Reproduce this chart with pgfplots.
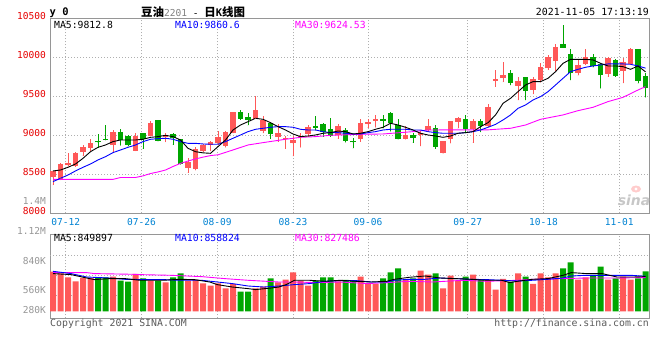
\documentclass[border=0pt]{standalone}
\usepackage{pgfplots}
\pgfplotsset{compat=1.18}
\usepackage{pgfplotstable}
\usepackage{fontspec}
\setmainfont{DejaVu Sans Mono}
\newfontfamily\mono{DejaVu Sans Mono}
\newfontfamily\cjk{Noto Sans CJK SC}
\newfontfamily\sans{DejaVu Sans}
\newcommand\fs[1]{\fontsize{#1}{#1}\selectfont}
\definecolor{kred}{RGB}{255,88,88}
\definecolor{kgreen}{RGB}{0,166,0}
\definecolor{mablue}{RGB}{0,0,255}
\definecolor{mamag}{RGB}{255,0,255}
\definecolor{tickred}{RGB}{230,0,0}
\definecolor{dateblue}{RGB}{0,130,210}
\definecolor{labgray}{RGB}{150,150,150}
\definecolor{bordergray}{RGB}{150,150,150}
\definecolor{gridgray}{RGB}{175,175,175}
\definecolor{copygray}{RGB}{90,90,90}

% candles: i open close high low
\pgfplotstableread{
i o c h l
0 8460 8540 8545 8365
1 8445 8632 8650 8430
2 8618 8648 8772 8605
3 8610 8777 8786 8600
4 8790 8850 8876 8738
5 8840 8905 8955 8800
8 8880 9042 9066 8788
11 8805 8990 9025 8800
13 8995 9161 9185 8990
15 8980 9008 9035 8915
18 8582 8652 8705 8521
19 8570 8820 8850 8555
20 8803 8876 8890 8790
21 8875 8915 8930 8803
22 8897 8979 9060 8876
23 8868 9043 9055 8845
24 9034 9299 9300 9030
27 9214 9325 9504 9214
28 9060 9197 9250 9030
30 8983 9030 9150 8920
31 8949 8962 8985 8829
32 8897 8940 8985 8735
33 8972 8985 9030 8846
34 9017 9111 9128 8983
38 9004 9120 9150 8957
41 8953 9158 9209 8919
42 9145 9175 9213 9100
43 9188 9209 9256 9103
47 8953 9000 9120 8950
49 9000 9030 9060 8863
50 9068 9120 9214 9047
52 8773 8927 8930 8770
53 8953 9184 9184 8900
54 9175 9227 9240 9090
56 9081 9184 9209 8906
58 9120 9359 9397 9103
59 9697 9718 9838 9624
60 9739 9773 9940 9684
62 9637 9697 9752 9453
64 9581 9718 9744 9530
65 9709 9876 9923 9680
66 9859 10004 10034 9838
67 9957 10128 10171 9829
70 9803 9897 9983 9769
71 9919 10000 10107 9906
74 9786 9991 10000 9752
76 9829 9940 9987 9671
77 9919 10107 10120 9910
}\upT
\pgfplotstableread{
i o c h l
6 8928 8908 9020 8843
7 8955 8945 9135 8940
9 9042 8935 9085 8872
10 8985 8878 9010 8860
12 9033 8952 9035 8830
14 9196 8928 9200 8925
16 9018 8960 9035 8880
17 8949 8630 8952 8628
25 9299 9214 9325 9200
26 9235 9197 9280 9130
29 9162 9017 9175 8957
35 9120 9098 9248 9068
36 9150 9047 9162 8983
37 9085 8991 9222 8983
39 9068 8927 9090 8910
40 8927 8910 8962 8835
44 9209 9188 9256 9090
45 9286 9162 9300 9050
46 9128 8953 9205 8950
48 9000 8970 9026 8906
51 9098 8855 9132 8829
55 9209 9081 9256 9030
57 9184 9124 9213 9043
61 9803 9675 9837 9645
63 9744 9573 9752 9453
68 10171 10124 10415 10124
69 10043 9803 10111 9709
72 10000 9889 10043 9872
73 9915 9769 9923 9603
75 9966 9761 9974 9752
78 10107 9697 10107 9667
79 9761 9603 9795 9487
}\dnT

\pgfplotstableread{
i ma5 ma10
0 8543 8406
1 8555 8449
2 8590 8491
3 8632 8543
4 8705 8590
5 8790 8632
6 8846 8684
7 8876 8726
8 8919 8778
9 8940 8812
10 8940 8846
11 8940 8876
12 8949 8919
13 8974 8949
14 8983 8957
15 9000 8962
16 8983 8949
17 8940 8919
18 8833 8897
19 8790 8897
20 8775 8889
21 8769 8885
22 8855 8885
23 8940 8919
24 9068 8962
25 9132 9004
26 9175 9047
27 9218 9077
28 9205 9090
29 9162 9103
30 9111 9111
31 9068 9111
32 9017 9103
33 8983 9077
34 8991 9068
35 9004 9068
36 9026 9047
37 9034 9034
38 9055 9034
39 9047 9026
40 9017 9017
41 9026 9017
42 9047 9034
43 9077 9047
44 9103 9068
45 9154 9077
46 9132 9077
47 9103 9077
48 9068 9068
49 9026 9068
50 9004 9047
51 8991 9034
52 8974 9026
53 8991 9026
54 9026 9026
55 9034 9034
56 9047 9047
57 9111 9068
58 9162 9103
59 9260 9140
60 9410 9197
61 9474 9261
62 9560 9346
63 9645 9389
64 9688 9453
65 9688 9496
66 9731 9560
67 9816 9645
68 9923 9731
69 9974 9816
70 9974 9846
71 9974 9872
72 9966 9889
73 9923 9902
74 9889 9915
75 9889 9915
76 9880 9915
77 9846 9910
78 9889 9889
79 9813 9861
}\maT

\pgfplotstableread{
i v
0 8435
8 8435
9 8459
11 8459
12 8480
13 8510
14 8530
15 8555
16 8600
17 8640
18 8670
19 8697
20 8720
21 8740
22 8750
24 8812
26 8876
28 8906
31 8949
33 8974
35 8983
37 9000
41 9013
44 9017
48 9047
50 9068
55 9070
58 9070
61 9090
63 9132
65 9205
68 9261
70 9316
72 9359
74 9432
76 9487
78 9581
79 9624
}\maThirty

% volume (thousands)
\pgfplotstableread{
i v
0 973
1 931
2 833
3 735
4 818
5 818
8 850
11 916
13 752
15 711
18 752
19 777
20 686
21 630
22 686
23 564
24 671
27 564
28 605
30 711
31 777
32 956
33 752
34 630
38 735
41 850
42 671
43 671
47 769
49 997
50 899
52 564
53 875
54 752
56 899
58 777
59 532
60 794
62 931
64 671
65 931
66 833
67 931
70 777
71 833
74 777
76 850
77 777
}\vupT
\pgfplotstableread{
i v
6 833
7 833
9 752
10 728
12 809
14 752
16 833
17 931
25 483
26 483
29 809
35 752
36 833
37 833
39 769
40 752
44 809
45 956
46 1054
48 809
51 931
55 850
57 777
61 728
63 850
68 1054
69 1201
72 892
73 1095
75 809
78 809
79 980
}\vdnT

\pgfplotstableread{
i v
0 924
2.4 899
4.5 816
5.5 777
7.5 801
9.6 801
11.6 760
14.7 760
16.8 784
18.8 777
20.9 718
21.9 654
23.9 595
26 556
27 532
29.1 571
30.1 595
31.1 654
32.2 760
34.2 760
36.3 735
38.3 760
40.4 735
42.4 718
44.5 735
45.5 784
47.5 833
49.6 865
51.6 816
53.7 801
55.7 784
57.8 760
59.8 760
60.9 703
61.9 735
63.9 784
66 801
68 882
69.1 948
71.1 924
73.2 924
74.2 882
75.2 840
77.3 840
79 850
}\vmaFive
\pgfplotstableread{
i v
0 980
2.4 924
4.5 840
7.5 816
9.6 784
12.7 777
14.7 777
16.8 760
19.8 760
21.9 718
23.9 679
26 620
28.1 595
30.1 620
32.2 654
34.2 679
36.3 735
38.3 752
40.4 752
42.4 718
44.5 718
45.5 760
47.5 784
49.6 784
51.6 816
53.7 801
55.7 784
57.8 777
59.8 760
61.9 742
63.9 760
66 784
68 816
69.1 865
71.1 882
77 882
79 859
}\vmaTen
\pgfplotstableread{
i v
0 948
4.5 948
5.5 924
10.6 907
11.6 899
15.7 882
19.8 850
22.9 801
26 760
30.1 718
32.2 718
35.2 703
38.3 718
41.9 679
44.5 703
47.5 735
50.6 718
54.7 760
57.8 735
61.9 760
63.9 784
68 801
71.1 816
75.2 816
79 827
}\vmaThirty

\pgfplotsset{
  kpanel/.style={
    scale only axis, width=599.3bp, anchor=north west,
    xmin=-0.4, xmax=79.5,
    scaled x ticks=false, scaled y ticks=false,
    axis line style={draw=bordergray, line width=0.9bp},
    major tick length=0pt,
    xtick={1.7,11.8,21.9,32.0,42.0,55.3,65.4,75.5},
    grid style={gridgray, dash pattern=on 1bp off 2bp, line width=0.8bp},
  },
  candle/.style={only marks, mark=*, mark size=0.01pt, mark options={draw=none, fill=none},
    error bars/.cd, y dir=plus, y explicit, error mark=none,
    error bar style={line width=#1}},
}

\begin{document}
\begin{tikzpicture}
\path[use as bounding box] (0,0) rectangle (660bp,-360bp);

% ---------- price panel ----------
\begin{axis}[kpanel,
  at={(50bp,-18.3bp)}, height=195bp,
  ymin=8000, ymax=10500,
  ytick={8000,8500,9000,9500,10000,10500},
  yticklabels={8000,8500,9000,9500,10000,10500},
  xticklabels={07-12,07-26,08-09,08-23,09-06,09-27,10-18,11-01},
  grid=major,
  xticklabel style={font=\mono\fs{9.6}, text=dateblue, anchor=north, inner sep=0pt, yshift=-4.9bp},
  yticklabel style={font=\mono\fs{9.6}, text=tickred, anchor=east, inner sep=0pt, xshift=-4bp, yshift=2bp},
]
% wicks
\addplot[kred, candle=1bp] table[x=i, y=l, y error expr=\thisrow{h}-\thisrow{l}] {\upT};
\addplot[kgreen, candle=1bp] table[x=i, y=l, y error expr=\thisrow{h}-\thisrow{l}] {\dnT};
% bodies
\addplot[kred, candle=5.8bp] table[x=i, y=o, y error expr={max(\thisrow{c}-\thisrow{o},12)}] {\upT};
\addplot[kgreen, candle=5.8bp] table[x=i, y=c, y error expr={max(\thisrow{o}-\thisrow{c},12)}] {\dnT};
% moving averages
\addplot[mamag, line width=0.9bp, mark=none] table[x=i, y=v] {\maThirty};
\addplot[mablue, line width=0.9bp, mark=none] table[x=i, y=ma10] {\maT};
\addplot[black, line width=0.9bp, mark=none] table[x=i, y=ma5] {\maT};
\end{axis}

% ---------- volume panel ----------
\begin{axis}[kpanel,
  at={(50bp,-234.3bp)}, height=84bp,
  ymin=-171.5, ymax=1886.5,
  xticklabels={},
  xmajorgrids=true, ymajorgrids=false,
  ytick={24.5,514.5,1225}, yticklabels={280K,560K,840K},
  yticklabel style={font=\mono\fs{9.6}, text=labgray, anchor=east, inner sep=0pt, xshift=-4bp},
  extra y ticks={392,882,1372}, extra y tick labels={},
  extra y tick style={ymajorgrids=true},
]
\addplot[ybar, bar width=6bp, bar shift=0pt, fill=kred, draw=none] table[x=i, y=v] {\vupT};
\addplot[ybar, bar width=6bp, bar shift=0pt, fill=kgreen, draw=none] table[x=i, y=v] {\vdnT};
\addplot[mamag, line width=0.9bp, mark=none] table[x=i, y=v] {\vmaThirty};
\addplot[mablue, line width=0.9bp, mark=none] table[x=i, y=v] {\vmaTen};
\addplot[black, line width=0.9bp, mark=none] table[x=i, y=v] {\vmaFive};
\end{axis}

% ---------- texts ----------
\node[anchor=base west, inner sep=0pt, font=\mono\bfseries\fs{10.5}] at (49.5bp,-15bp) {y 0};
\node[anchor=base west, inner sep=0pt] at (141bp,-16.5bp)
  {{\cjk\bfseries\fs{11.5}豆油}{\mono\fs{9.6}\color{gray}2201}{\mono\fs{9.6} - }{\cjk\bfseries\fs{11.5}日}{\mono\bfseries\fs{10.5}K}{\cjk\bfseries\fs{11.5}线图}};
\node[anchor=east, inner sep=0pt, font=\mono\fs{9.9}] at (649bp,-12.3bp) {2021-11-05 17:13:19};

\node[anchor=west, inner sep=0pt, font=\mono\fs{9.8}, text=black] at (54bp,-24.7bp) {MA5:9812.8};
\node[anchor=west, inner sep=0pt, font=\mono\fs{9.8}, text=mablue] at (175bp,-24.7bp) {MA10:9860.6};
\node[anchor=west, inner sep=0pt, font=\mono\fs{9.8}, text=mamag] at (295bp,-24.7bp) {MA30:9624.53};

\node[anchor=west, inner sep=0pt, font=\mono\fs{9.8}, text=black] at (54bp,-238.3bp) {MA5:849897};
\node[anchor=west, inner sep=0pt, font=\mono\fs{9.8}, text=mablue] at (175bp,-238.3bp) {MA10:858824};
\node[anchor=west, inner sep=0pt, font=\mono\fs{9.8}, text=mamag] at (295bp,-238.3bp) {MA30:827486};

\node[anchor=east, inner sep=0pt, font=\mono\fs{9.6}, text=labgray] at (46bp,-200.7bp) {1.4M};
\node[anchor=east, inner sep=0pt, font=\mono\fs{9.6}, text=labgray] at (46bp,-231bp) {1.12M};

\node[anchor=west, inner sep=0pt, font=\mono\fs{9.9}, text=copygray] at (50bp,-324bp) {Copyright 2021 SINA.COM};
\node[anchor=east, inner sep=0pt, font=\mono\fs{9.9}, text=copygray] at (649bp,-324bp) {http://finance.sina.com.cn};

% sina watermark
\fill[red!20] (636bp,-189bp) ellipse (5bp and 3.5bp);
\fill[white] (636bp,-189bp) circle (1.6bp);
\node[inner sep=0pt, font=\sans\bfseries\itshape\fs{14}, text=black!22] at (634bp,-200bp) {sina};
\end{tikzpicture}
\end{document}
